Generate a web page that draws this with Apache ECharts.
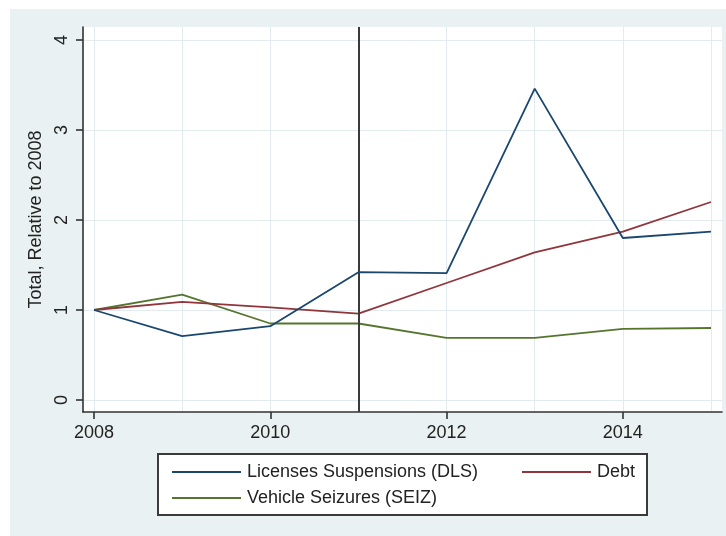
<!DOCTYPE html>
<html>
<head>
<meta charset="utf-8">
<script src="https://cdn.jsdelivr.net/npm/echarts@6/dist/echarts.min.js"></script>
<style>
  html, body { margin: 0; padding: 0; background: #ffffff; }
  #chart { width: 726px; height: 536px; }
</style>
</head>
<body>
<div id="chart"></div>
<script>
// Yearly totals, each expressed relative to the 2008 level
const years = [2008, 2009, 2010, 2011, 2012, 2013, 2014, 2015];
const dls  = [1.00, 0.71, 0.82, 1.42, 1.41, 3.46, 1.80, 1.87];
const debt = [1.00, 1.09, 1.03, 0.96, 1.30, 1.64, 1.87, 2.20];
const seiz = [1.00, 1.17, 0.85, 0.85, 0.69, 0.69, 0.79, 0.80];

const seriesNames = ['Licenses Suspensions (DLS)', 'Debt', 'Vehicle Seizures (SEIZ)'];
const labeledYears = [2008, 2010, 2012, 2014];
const yTicks = [0, 1, 2, 3, 4];
const cutoffYear = 2011;

const FONT = '"Liberation Sans", Arial, sans-serif';
const TEXT = '#222222';
const AXIS = '#333333';
const GRID = '#e2ebef';
const PANEL = '#eaf1f3';

const pairs = vals => years.map((y, i) => [y, vals[i]]);

const chart = echarts.init(document.getElementById('chart'), null, { renderer: 'canvas' });

const legendBase = {
  icon: 'rect',
  itemWidth: 69,
  itemHeight: 2,
  orient: 'horizontal',
  selectedMode: false,
  textStyle: { fontFamily: FONT, fontSize: 18, color: TEXT, padding: [0, 0, 0, 1] }
};

chart.setOption({
  backgroundColor: '#ffffff',
  animation: false,
  graphic: [
    { type: 'rect', z: -10, shape: { x: 10, y: 9, width: 716, height: 527 }, style: { fill: PANEL } },
    { type: 'rect', z: 0, shape: { x: 158, y: 454, width: 489, height: 61 }, style: { fill: '#ffffff', stroke: '#3a3a3a', lineWidth: 2 } }
  ],
  grid: {
    left: 83, right: 4, top: 27, bottom: 124,
    show: true, backgroundColor: '#ffffff', borderWidth: 0
  },
  legend: [
    Object.assign({ data: [seriesNames[0]], left: 167, top: 458 }, legendBase),
    Object.assign({ data: [seriesNames[1]], left: 517, top: 458 }, legendBase),
    Object.assign({ data: [seriesNames[2]], left: 167, top: 484 }, legendBase)
  ],
  xAxis: [
    {
      type: 'value', position: 'bottom', min: 2007.875, max: 2015.125,
      axisLine: { show: false },
      axisTick: { show: false, customValues: years },
      axisLabel: { show: false, customValues: years },
      splitLine: { show: true, lineStyle: { color: GRID, width: 1 } }
    },
    {
      type: 'value', position: 'bottom', min: 2007.875, max: 2015.125,
      axisLine: { show: true, onZero: false, lineStyle: { color: AXIS, width: 1.6 } },
      axisTick: { show: true, length: 7, lineStyle: { color: AXIS, width: 1.6 }, customValues: labeledYears },
      axisLabel: { show: true, customValues: labeledYears, margin: 12, fontFamily: FONT, fontSize: 18, color: TEXT, formatter: v => String(v) },
      splitLine: { show: false }
    }
  ],
  yAxis: {
    type: 'value', min: -0.1333, max: 4.1444,
    name: 'Total, Relative to 2008',
    nameLocation: 'middle', nameRotate: 90, nameGap: 33,
    nameTextStyle: { fontFamily: FONT, fontSize: 18, color: TEXT },
    axisLine: { show: true, onZero: false, lineStyle: { color: AXIS, width: 1.6 } },
    axisTick: { show: true, length: 7, lineStyle: { color: AXIS, width: 1.6 }, customValues: yTicks },
    axisLabel: { show: true, customValues: yTicks, rotate: 90, margin: 12, fontFamily: FONT, fontSize: 18, color: TEXT, formatter: v => String(v) },
    splitLine: { show: true, lineStyle: { color: GRID, width: 1 } }
  },
  series: [
    {
      name: seriesNames[0], type: 'line', xAxisIndex: 0, data: pairs(dls),
      symbol: 'none', color: '#1a476f', lineStyle: { width: 1.8 }, z: 5,
      markLine: {
        silent: true, symbol: 'none', label: { show: false },
        lineStyle: { color: '#3a3a3a', width: 2, type: 'solid' },
        data: [{ xAxis: cutoffYear }]
      }
    },
    {
      name: seriesNames[1], type: 'line', xAxisIndex: 0, data: pairs(debt),
      symbol: 'none', color: '#90353b', lineStyle: { width: 1.8 }, z: 4
    },
    {
      name: seriesNames[2], type: 'line', xAxisIndex: 0, data: pairs(seiz),
      symbol: 'none', color: '#55752f', lineStyle: { width: 1.8 }, z: 3
    }
  ]
});
</script>
</body>
</html>
